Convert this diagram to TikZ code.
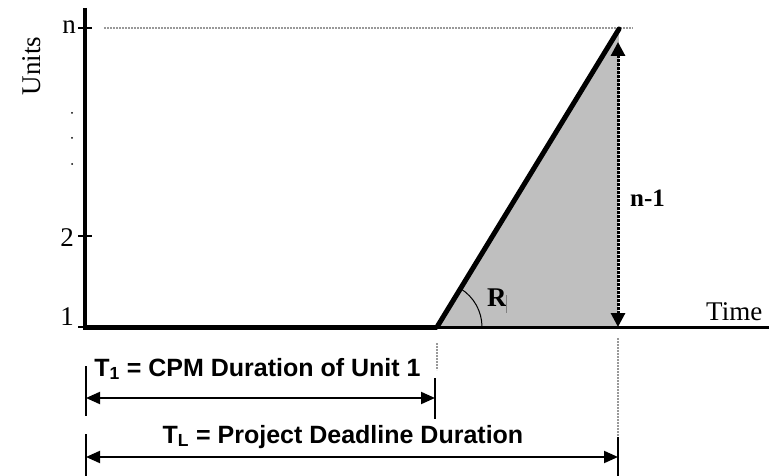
\documentclass[tikz,border=0pt]{standalone}
\usepackage{fontspec}
\setmainfont{Liberation Serif}
\setsansfont{Liberation Sans}
\usetikzlibrary{arrows.meta}
\begin{document}
\begin{tikzpicture}[x=1pt,y=-1pt,
  tick/.style={line width=1.6pt},
  guide/.style={gray!80,line width=1.4pt,dash pattern=on 2pt off 1pt},
  dimline/.style={line width=2pt,{Triangle[length=14pt,width=12pt]}-{Triangle[length=14pt,width=12pt]}},
  bar/.style={line width=1.8pt},
  serif/.style={font=\fontsize{27}{29}\selectfont},
  sanslab/.style={font=\sffamily\bfseries\fontsize{25}{27}\selectfont},
]
\useasboundingbox (0,0) rectangle (769,476);
% key points
\coordinate (top) at (85,8);
\coordinate (O) at (85,327);
\coordinate (S) at (437,327);
\coordinate (A) at (619,29);
\coordinate (F) at (618,327);
\coordinate (E) at (769,327);
\coordinate (nL) at (104,28);
\coordinate (nR) at (633,28);
% fill
\fill[gray!50] (S) -- (A) -- (F) -- cycle;
% dashed guide at n
\draw[guide] (nL) -- (nR);
% axes
\draw[line width=3.5pt] (top) -- (O);
\draw[line width=5pt] (83.25,327) -- (S);
\draw[line width=3pt] (S) -- (E);
\draw[line width=5pt,line cap=round] (S) -- (A);
% ticks
\draw[tick] (78,28) -- (92,28);
\draw[tick] (78,236) -- (92,236);
\draw[tick] (78,327) -- (85,327);
% tick labels
\node[serif,anchor=base east,inner sep=0] (ln) at (76,34) {n};
\node[serif,anchor=base east,inner sep=0] (l2) at (74,246) {2};
\node[serif,anchor=base east,inner sep=0] (l1) at (74,325) {1};
\foreach \yy in {113,138,164} \fill (72,\yy) circle (1pt);
\node[serif,rotate=90,inner sep=0] (units) at (32,66) {Units};
\node[serif,anchor=base west,inner sep=0] (time) at (706,320) {Time};
% dotted n-1 arrow
\coordinate (dT) at (618,42);
\draw[line width=3pt,dash pattern=on 2.5pt off 1.5pt,{Triangle[length=14pt,width=14pt]}-{Triangle[length=14pt,width=14pt]}] (dT) -- (F);
\node[font=\bfseries\fontsize{25}{27}\selectfont,anchor=base west,inner sep=0] (nm1) at (630,207) {n-1};
% angle
\draw[line width=1pt] (482,327) arc[start angle=0,end angle=-58.5,radius=45];
\node[font=\bfseries\fontsize{27}{29}\selectfont,anchor=base west,inner sep=0] (R) at (487,306) {R};
\draw[gray,line width=0.6pt] (506,295) -- (506,313);
% vertical guides
\draw[guide] (437,343) -- (437,370);
\draw[guide] (618,338) -- (618,437);
% bars
\draw[bar] (86,366) -- (86,416);
\draw[bar] (435,378) -- (435,419);
\draw[bar] (86,434) -- (86,476);
\draw[bar] (618,437) -- (618,476);
\coordinate (a1L) at (86,398);
\coordinate (a1R) at (435,398);
\coordinate (a2L) at (86,457);
\coordinate (a2R) at (618,457);
\draw[dimline] (a1L) -- (a1R);
\draw[dimline] (a2L) -- (a2R);
\node[sanslab,anchor=base,inner sep=0] (t1) at (257.5,376) {T\textsubscript{1} = CPM Duration of Unit 1};
\node[sanslab,anchor=base,inner sep=0] (tl) at (343,443) {T\textsubscript{L} = Project Deadline Duration};
\end{tikzpicture}
\end{document}
